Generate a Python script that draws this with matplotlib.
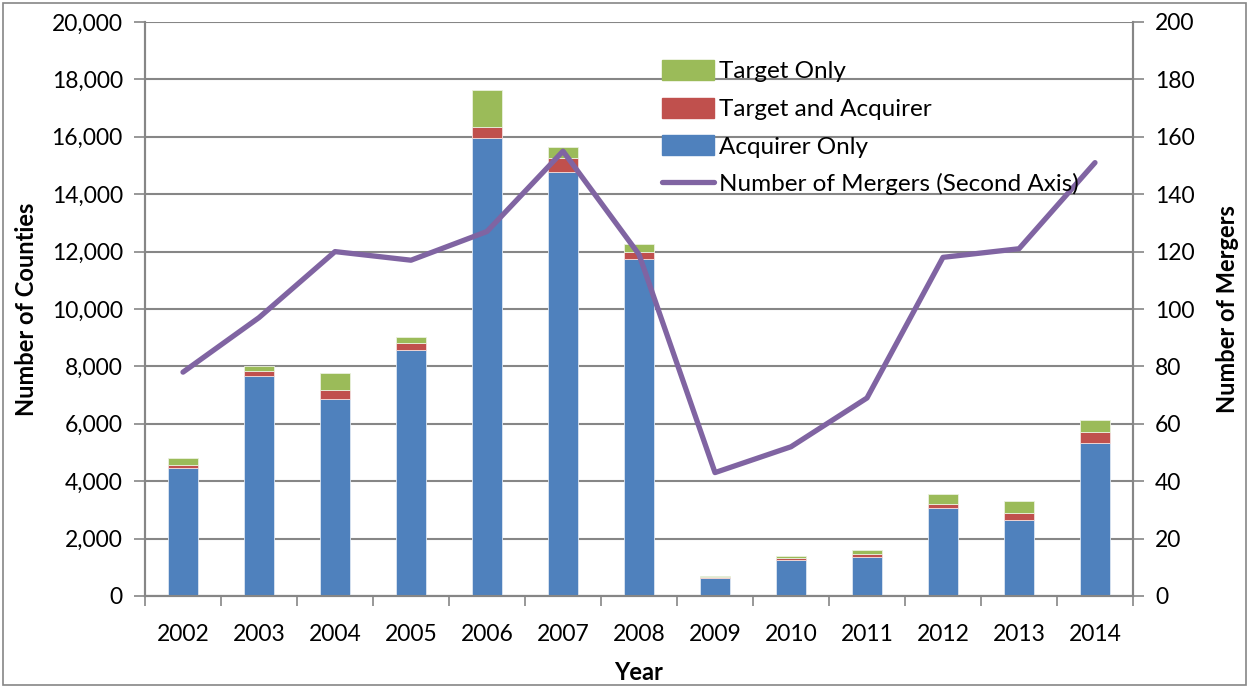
import matplotlib
matplotlib.use("Agg")
import matplotlib.pyplot as plt
import numpy as np
from matplotlib.patches import Rectangle, Patch
from matplotlib.lines import Line2D
from matplotlib.ticker import FuncFormatter, MultipleLocator

years = ["2002", "2003", "2004", "2005", "2006", "2007", "2008",
         "2009", "2010", "2011", "2012", "2013", "2014"]
acquirer_only = [4450, 7670, 6870, 8575, 15975, 14790, 11740, 610, 1270, 1375, 3060, 2640, 5330]
target_and_acquirer = [130, 160, 320, 255, 370, 465, 230, 35, 60, 80, 160, 245, 370]
target_only = [220, 190, 590, 200, 1300, 400, 300, 55, 70, 150, 330, 430, 430]
mergers = [78, 97, 120, 117, 127, 155, 119, 43, 52, 69, 118, 121, 151]

plt.rcParams['font.family'] = ['Lato', 'DejaVu Sans']

fig = plt.figure(figsize=(12.49, 6.88), dpi=100)
ax = fig.add_axes([145/1249, 1 - 596/688, (1133-145)/1249, (596-22)/688])
ax2 = ax.twinx()

x = np.arange(len(years))
w = 0.4
a = np.array(acquirer_only)
b = np.array(target_and_acquirer)
c = np.array(target_only)
blue, red, green, purple = "#4F81BD", "#C0504D", "#9BBB59", "#8064A2"
ax.bar(x, a, w, color=blue, edgecolor="#DCE6F2", linewidth=0.6, zorder=3)
ax.bar(x, b, w, bottom=a, color=red, edgecolor="#F2DCDB", linewidth=0.6, zorder=3)
ax.bar(x, c, w, bottom=a + b, color=green, edgecolor="#EBF1DE", linewidth=0.6, zorder=3)

ax2.plot(x, mergers, color=purple, linewidth=3.8, solid_capstyle='round', zorder=4)

ax.set_xlim(-0.5, len(years) - 0.5)
ax.set_ylim(0, 20000)
ax2.set_ylim(0, 200)
ax.yaxis.set_major_locator(MultipleLocator(2000))
ax2.yaxis.set_major_locator(MultipleLocator(20))
ax.yaxis.set_major_formatter(FuncFormatter(lambda v, p: f"{int(v):,}"))

ax.grid(axis='y', color="#868686", linewidth=1.5, zorder=0)
ax.set_axisbelow(True)

ax.set_xticks(x)
ax.set_xticklabels(years)
ax.set_xticks(np.arange(-0.5, len(years)), minor=True)
ax.tick_params(axis='x', which='major', length=0, pad=20, labelsize=16.5)
ax.tick_params(axis='x', which='minor', length=7, width=1.2, color="#868686", direction='out')
ax.tick_params(axis='y', length=8, width=1.2, color="#868686", labelsize=16.5, pad=8)
ax2.tick_params(axis='y', length=8, width=1.2, color="#868686", labelsize=16.5, pad=8)

for axis in (ax, ax2):
    axis.spines['top'].set_visible(False)
    for s in ('left', 'right', 'bottom'):
        axis.spines[s].set_color("#868686")
        axis.spines[s].set_linewidth(1.5)

ax.set_xlabel("Year", fontsize=17, fontweight='bold', labelpad=12)
ax.set_ylabel("Number of Counties", fontsize=17, fontweight='bold', labelpad=10)
ax2.set_ylabel("Number of Mergers", fontsize=17, fontweight='bold', labelpad=15)

handles = [Patch(color=green), Patch(color=red), Patch(color=blue),
           Line2D([0], [0], color=purple, linewidth=3.8, solid_capstyle='round')]
labels = ["Target Only", "Target and Acquirer", "Acquirer Only", "Number of Mergers (Second Axis)"]
ax2.legend(handles, labels, loc='upper left', bbox_to_anchor=(662/1249, 1 - 60/688),
           bbox_transform=fig.transFigure, frameon=False, fontsize=17.5,
           handlelength=2.15, handleheight=0.9, handletextpad=0.2, labelspacing=0.62,
           borderaxespad=0, borderpad=0)

fig.add_artist(Rectangle((3/1249, 3/688), 1243/1249, 682/688, transform=fig.transFigure,
                         fill=False, edgecolor="#868686", linewidth=1.2))

fig.savefig("out.png", dpi=100)
